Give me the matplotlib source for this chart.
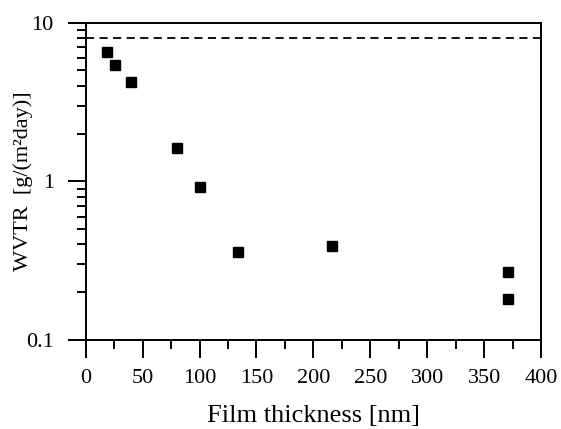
import matplotlib
matplotlib.use("Agg")
import matplotlib.pyplot as plt
from matplotlib.ticker import FixedLocator, LogLocator, FuncFormatter, MultipleLocator

plt.rcParams.update({
    "font.family": ["Liberation Serif", "DejaVu Serif"],
    "font.size": 16,
    "axes.linewidth": 1.4,
})

# Film thickness [nm] and measured WVTR [g/(m^2 day)]
thickness = [19, 26, 40, 80, 100, 134, 216, 371, 371]
wvtr = [6.5, 5.4, 4.2, 1.62, 0.92, 0.36, 0.39, 0.27, 0.18]

# Reference level (dashed line)
reference_level = 8.0

x_ticks = [0, 50, 100, 150, 200, 250, 300, 350, 400]
y_ticks = [0.1, 1, 10]

fig = plt.figure(figsize=(5.61, 4.29), dpi=100)
ax = fig.add_axes([0.1528, 0.2075, 0.9643 - 0.1528, 0.947 - 0.2075])

ax.axhline(reference_level, color="black", linestyle=(0, (4.5, 3)), linewidth=1.3)
ax.plot(thickness, wvtr, linestyle="none", marker="s", markersize=7.2,
        color="black", clip_on=False)

ax.set_yscale("log")
ax.set_xlim(0, 400)
ax.set_ylim(0.1, 10)

ax.xaxis.set_major_locator(FixedLocator(x_ticks))
ax.xaxis.set_minor_locator(MultipleLocator(25))
ax.yaxis.set_major_locator(FixedLocator(y_ticks))
ax.yaxis.set_minor_locator(LogLocator(base=10, subs=range(2, 10)))
ax.yaxis.set_major_formatter(FuncFormatter(lambda v, p: f"{v:g}"))
ax.yaxis.set_minor_formatter(FuncFormatter(lambda v, p: ""))

ax.tick_params(which="major", direction="out", length=13, width=1.4,
               labelsize=16, colors="black")
ax.tick_params(axis="x", which="major", pad=8)
ax.tick_params(axis="y", which="major", pad=10)
ax.tick_params(which="minor", direction="out", length=6.5, width=1.4)
ax.tick_params(top=False, right=False, which="both")

ax.set_xlabel("Film thickness [nm]", fontsize=19)
ax.set_ylabel("WVTR  [g/(m²day)]", fontsize=16)
ax.xaxis.set_label_coords(0.5, -0.205)
ax.yaxis.set_label_coords(-0.116, 0.5)

fig.savefig("out.png", dpi=100)
